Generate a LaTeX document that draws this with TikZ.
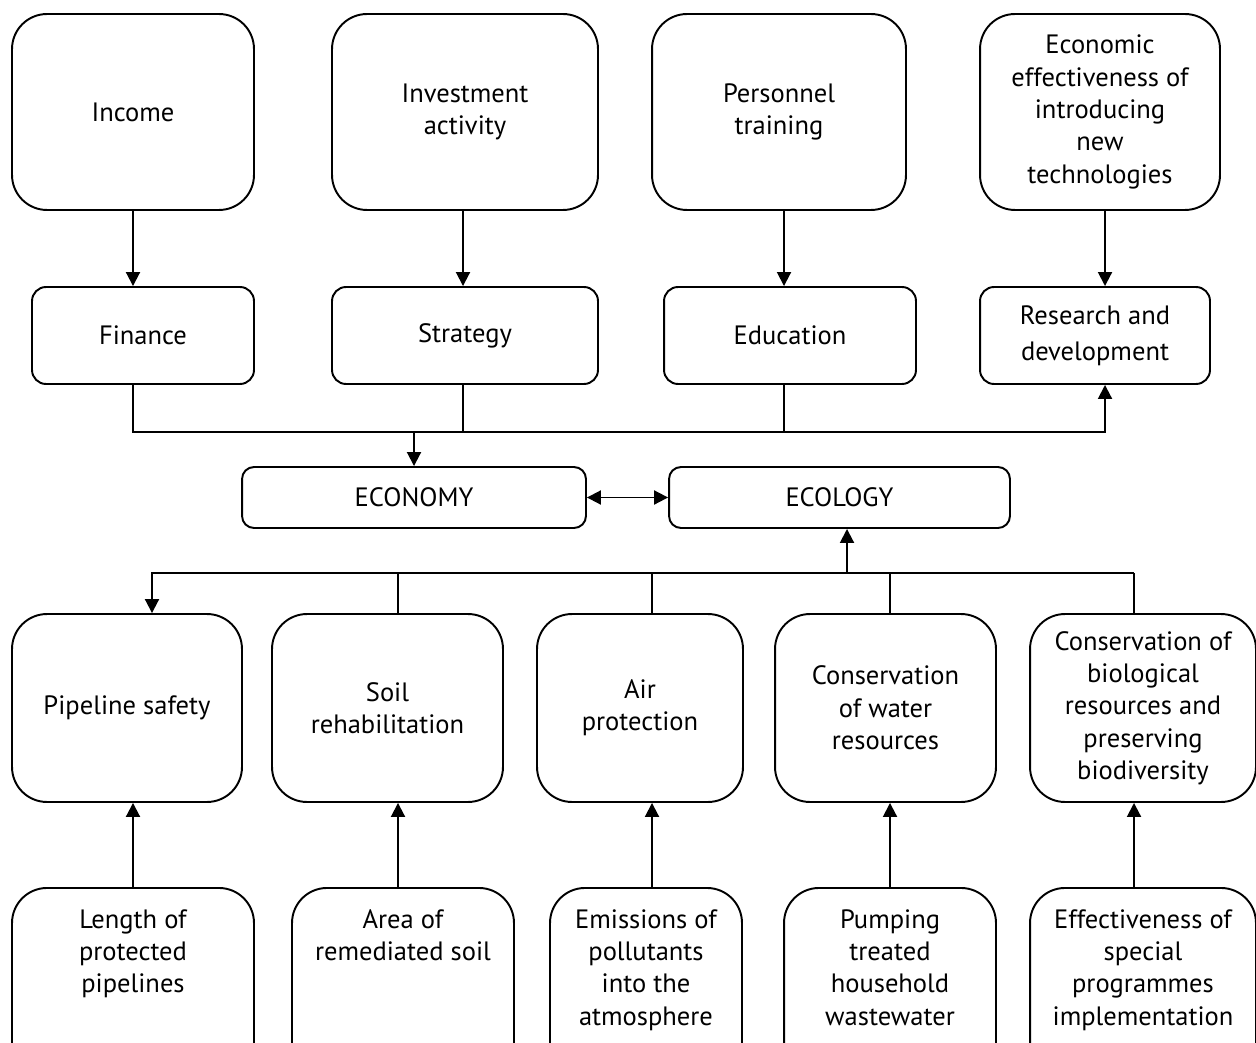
\documentclass[tikz,border=0pt]{standalone}
\usepackage{fontspec}
\setmainfont{PT Sans}
\usetikzlibrary{arrows.meta}

\begin{document}
\begin{tikzpicture}[x=0.02cm, y=-0.02cm,
    every node/.style={font=\fontsize{15.1}{18.4}\selectfont, align=center},
    bigbox/.style={draw, line width=1.1pt, rounded corners=0.7cm, minimum height=3.92cm},
    midbox/.style={draw, line width=1.1pt, rounded corners=0.28cm, minimum height=1.94cm},
    flatbox/.style={draw, line width=1.1pt, rounded corners=0.24cm, minimum height=1.22cm},
    lowbox/.style={draw, line width=1.1pt, rounded corners=0.7cm, minimum height=3.76cm},
    basebox/.style={draw, line width=1.1pt, rounded corners=0.7cm, minimum height=3.8cm, anchor=north},
    boxtext/.style={anchor=north, inner sep=0pt, yshift=-0.44cm},
    link/.style={line width=1.1pt},
    arr/.style={line width=1.1pt, -{Triangle[length=0.28cm, width=0.28cm]}},
    both/.style={line width=1.1pt, {Triangle[length=0.28cm, width=0.28cm]}-{Triangle[length=0.28cm, width=0.28cm]}}]
   \clip (0,0) rectangle (1256,1043);

   % top row
   \node[bigbox, minimum width=4.84cm] (income) at (133,112) {Income};
   \node[bigbox, minimum width=5.32cm] (invest) at (465,112) {Investment\\activity};
   \node[bigbox, minimum width=5.08cm] (personnel) at (779,112) {Personnel\\training};
   \node[bigbox, minimum width=4.80cm] (newtech) at (1100,112) {Economic\\effectiveness of\\introducing\\new\\technologies};

   % second row
   \node[midbox, minimum width=4.44cm] (finance) at (143,335.5) {Finance};
   \node[midbox, minimum width=5.32cm] (strategy) at (465,335.5) {Strategy};
   \node[midbox, minimum width=5.04cm] (education) at (790,335.5) {Education};
   \node[midbox, minimum width=4.60cm, font=\fontsize{15.1}{20.4}\selectfont] (research) at (1095,335.5) {Research and\\development};

   % economy and ecology
   \node[flatbox, minimum width=6.88cm] (economy) at (414,497.5) {ECONOMY};
   \node[flatbox, minimum width=6.82cm] (ecology) at (839.5,497.5) {ECOLOGY};

   % third row
   \node[lowbox, minimum width=4.60cm] (pipeline) at (127,708) {Pipeline safety};
   \node[lowbox, minimum width=4.62cm] (soil) at (387.5,708) {Soil\\rehabilitation};
   \node[lowbox, minimum width=4.12cm] (air) at (640,708) {Air\\protection};
   \node[lowbox, minimum width=4.42cm] (water) at (885.5,708) {Conservation\\of water\\resources};
   \node[lowbox, minimum width=4.52cm] (biology) at (1143,708) {Conservation of\\biological\\resources and\\preserving\\biodiversity};

   % bottom row
   \node[basebox, minimum width=4.84cm] (length) at (133,887) {};
   \node[basebox, minimum width=4.44cm] (area) at (403,887) {};
   \node[basebox, minimum width=3.84cm] (emission) at (646,887) {};
   \node[basebox, minimum width=4.24cm] (pumping) at (890,887) {};
   \node[basebox, minimum width=4.52cm] (effect) at (1143,887) {};
   \node[boxtext] (lengthtext) at (length.north) {Length of\\protected\\pipelines};
   \node[boxtext] (areatext) at (area.north) {Area of\\remediated soil};
   \node[boxtext] (emissiontext) at (emission.north) {Emissions of\\pollutants\\into the\\atmosphere};
   \node[boxtext] (pumpingtext) at (pumping.north) {Pumping\\treated\\household\\wastewater};
   \node[boxtext] (effecttext) at (effect.north) {Effectiveness of\\special\\programmes\\implementation};

   % upper links
   \coordinate (c1) at (133,432);
   \coordinate (c2) at (463,432);
   \coordinate (c3) at (784,432);
   \coordinate (c4) at (1105,432);
   \draw[arr] (c1 |- income.south) -- (c1 |- finance.north);
   \draw[arr] (c2 |- invest.south) -- (c2 |- strategy.north);
   \draw[arr] (c3 |- personnel.south) -- (c3 |- education.north);
   \draw[arr] (c4 |- newtech.south) -- (c4 |- research.north);

   \draw[arr] (c1 |- finance.south) -- (c1) -- (c4) -- (c4 |- research.south);
   \draw[link] (c2 |- strategy.south) -- (c2);
   \draw[link] (c3 |- education.south) -- (c3);
   \draw[arr] (c1 -| economy.north) -- (economy.north);
   \draw[both] (economy) -- (ecology);

   % lower links
   \coordinate (lowbus) at (847,573);
   \coordinate (j1) at (152,573);
   \coordinate (j2) at (398,573);
   \coordinate (j3) at (652,573);
   \coordinate (j4) at (890,573);
   \coordinate (j5) at (1134,573);
   \draw[arr] (lowbus) -- (lowbus |- ecology.south);
   \draw[arr] (j5) -- (j1) -- (j1 |- pipeline.north);
   \draw[link] (j2) -- (j2 |- soil.north);
   \draw[link] (j3) -- (j3 |- air.north);
   \draw[link] (j4) -- (j4 |- water.north);
   \draw[link] (j5) -- (j5 |- biology.north);

   \draw[arr] (length.north) -- (length.north |- pipeline.south);
   \draw[arr] (j2 |- area.north) -- (j2 |- soil.south);
   \draw[arr] (j3 |- emission.north) -- (j3 |- air.south);
   \draw[arr] (j4 |- pumping.north) -- (j4 |- water.south);
   \draw[arr] (j5 |- effect.north) -- (j5 |- biology.south);
\end{tikzpicture}
\end{document}
